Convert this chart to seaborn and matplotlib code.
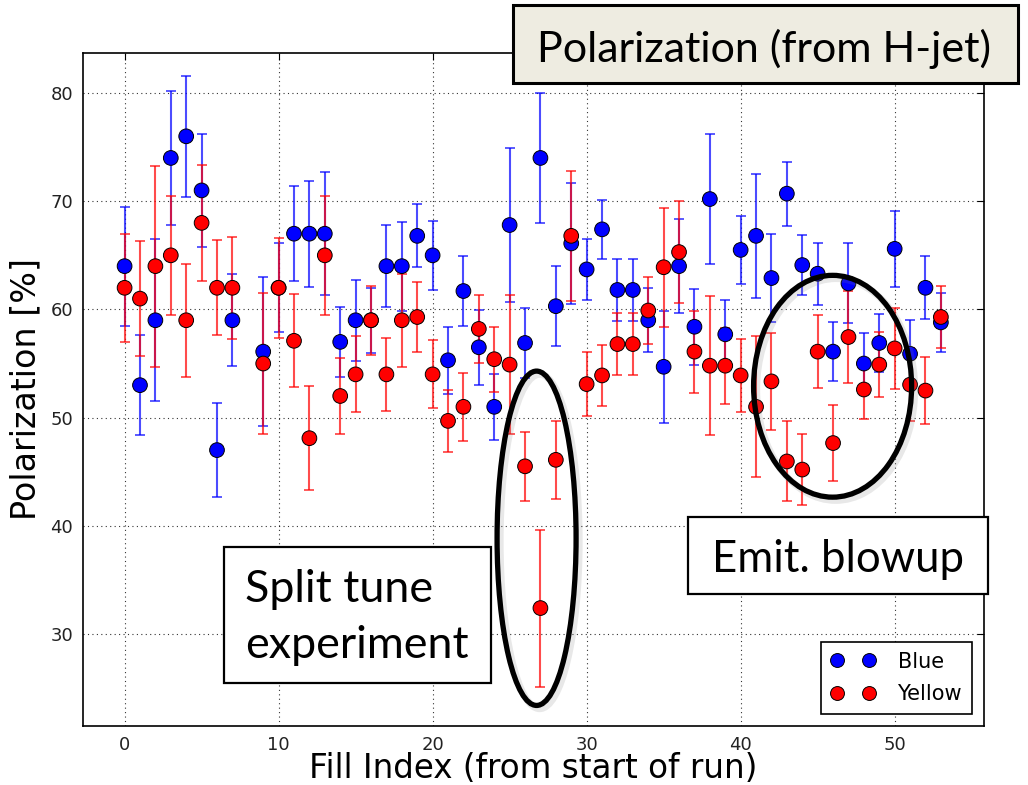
import numpy as np
import pandas as pd
import matplotlib
matplotlib.use("Agg")
import matplotlib.pyplot as plt
from matplotlib.patches import Ellipse, Rectangle
from matplotlib.lines import Line2D
import seaborn as sns

# ---------------- data ----------------
fill_index = [0, 1, 2, 3, 4, 5, 6, 7, 9, 10, 11, 12, 13, 14, 15, 16, 17, 18, 19, 20,
              21, 22, 23, 24, 25, 26, 27, 28, 29, 30, 31, 32, 33, 34, 35, 36, 37, 38,
              39, 40, 41, 42, 43, 44, 45, 46, 47, 48, 49, 50, 51, 52, 53]

blue_pol = [64.0, 53.0, 59.0, 74.0, 76.0, 71.0, 47.0, 59.0, 56.1, 62.0, 67.0, 67.0,
            67.0, 57.0, 59.0, 59.0, 64.0, 64.0, 66.8, 65.0, 55.3, 61.7, 56.5, 51.0,
            67.8, 56.9, 74.0, 60.3, 66.1, 63.7, 67.4, 61.8, 61.8, 59.0, 54.7, 64.0,
            58.4, 70.2, 57.7, 65.5, 66.8, 62.9, 70.7, 64.1, 63.3, 56.1, 62.4, 55.0,
            56.9, 65.6, 55.9, 62.0, 58.8]
blue_err = [5.5, 4.6, 7.5, 6.2, 5.6, 5.25, 4.35, 4.25, 6.9, 4.1, 4.4, 4.9, 5.7, 3.2,
            3.75, 3.0, 3.8, 4.1, 2.9, 3.2, 3.1, 3.2, 3.45, 3.05, 7.1, 3.2, 6.0, 3.7,
            5.6, 2.85, 2.75, 2.9, 2.85, 2.95, 5.2, 4.35, 3.5, 6.0, 3.2, 3.15, 5.7,
            4.05, 2.95, 2.75, 2.85, 2.7, 3.7, 2.8, 2.7, 3.5, 3.1, 2.9, 2.75]

yellow_pol = [62.0, 61.0, 64.0, 65.0, 59.0, 68.0, 62.0, 62.0, 55.0, 62.0, 57.1, 48.1,
              65.0, 52.0, 54.0, 59.0, 54.0, 59.0, 59.3, 54.0, 49.7, 51.0, 58.2, 55.4,
              54.9, 45.5, 32.4, 46.1, 66.8, 53.1, 53.9, 56.8, 56.8, 59.9, 63.9, 65.3,
              56.1, 54.8, 54.8, 53.9, 51.0, 53.35, 45.95, 45.2, 56.1, 47.65, 57.45,
              52.6, 54.9, 56.4, 53.05, 52.5, 59.3]
yellow_err = [5.0, 5.3, 9.3, 5.5, 5.2, 5.35, 4.4, 4.7, 6.5, 4.6, 4.3, 4.8, 5.5, 3.5,
              3.5, 3.2, 3.4, 4.3, 3.2, 3.15, 2.9, 3.15, 3.15, 3.0, 6.45, 3.2, 7.25,
              3.6, 6.0, 2.95, 2.8, 2.9, 2.9, 3.1, 5.5, 4.75, 3.8, 6.4, 3.5, 3.4, 6.5,
              4.45, 3.7, 3.25, 3.4, 3.5, 4.25, 2.7, 3.0, 3.75, 3.4, 3.1, 2.9]

ring_names = ["Blue", "Yellow"]
ring_colors = {"Blue": "#0000ff", "Yellow": "#ff0000"}

x_ticks = [0, 10, 20, 30, 40, 50]
y_ticks = [30, 40, 50, 60, 70, 80]

df = pd.concat([
    pd.DataFrame({"fill": fill_index, "pol": blue_pol, "err": blue_err, "ring": "Blue"}),
    pd.DataFrame({"fill": fill_index, "pol": yellow_pol, "err": yellow_err, "ring": "Yellow"}),
], ignore_index=True)

# ---------------- figure ----------------
sns.set_style("white")
plt.rcParams["font.family"] = ["DejaVu Sans"]
plt.rcParams["text.color"] = "black"
plt.rcParams["axes.labelcolor"] = "black"

W, H = 1028, 785
fig = plt.figure(figsize=(W / 100, H / 100), dpi=100)
ax = fig.add_axes([83 / W, 1 - 726 / H, (984 - 83) / W, (726 - 53) / H])

# error bars
for ring in ring_names:
    sub = df[df.ring == ring]
    ax.errorbar(sub.fill, sub.pol, yerr=sub.err, fmt="none",
                ecolor=ring_colors[ring], alpha=0.7, elinewidth=1.5,
                capsize=3.6, capthick=1.3, zorder=2)

# markers
sns.scatterplot(data=df, x="fill", y="pol", hue="ring", hue_order=ring_names,
                palette=ring_colors, s=112, edgecolor="black", linewidth=0.7,
                legend=False, ax=ax, zorder=3)

ax.set_xlim(-2.7, 55.8)
ax.set_ylim(21.5, 83.7)
ax.set_xticks(x_ticks)
ax.set_yticks(y_ticks)
ax.grid(True, linestyle=(0, (1, 3)), color="black", linewidth=0.8, alpha=0.8)
ax.tick_params(direction="in", top=True, right=True, length=5, width=0.8,
               labelsize=13, colors="black", labelcolor="#222222", pad=7)
for sp in ax.spines.values():
    sp.set_color("black")
    sp.set_linewidth(1.2)

ax.set_xlabel("Fill Index (from start of run)", fontsize=23.5, labelpad=-1)
ax.set_ylabel("Polarization [%]", fontsize=24, labelpad=6)

handles = [Line2D([], [], linestyle="none", marker="o", markersize=10,
                  markerfacecolor=ring_colors[r], markeredgecolor="black",
                  markeredgewidth=0.7) for r in ring_names]
leg = ax.legend(handles, ring_names, loc="lower right", numpoints=2, fontsize=15,
                frameon=True, fancybox=False, framealpha=1, edgecolor="black",
                borderaxespad=0.6, handletextpad=1.05, handlelength=2.15,
                borderpad=0.45, labelspacing=0.6)
leg.get_frame().set_linewidth(1.2)

# ---------------- annotation ellipses ----------------
for (cx, cy, w, h) in [(26.75, 38.85, 5.13, 30.9), (45.97, 52.9, 10.26, 20.5)]:
    shadow = Ellipse((cx + 0.2, cy - 0.3), w, h, fill=False, edgecolor="gray",
                     linewidth=5, alpha=0.18, zorder=5)
    ax.add_patch(shadow)
    ax.add_patch(Ellipse((cx, cy), w, h, fill=False, edgecolor="black",
                         linewidth=3.8, zorder=6))

# ---------------- text boxes (figure pixel coords) ----------------
def fx(px):
    return px / W


def fy(py):
    return 1 - py / H


def box(x0, y0, x1, y1, face, lw):
    fig.patches.append(Rectangle((fx(x0), fy(y1)), fx(x1) - fx(x0), fy(y0) - fy(y1),
                                 transform=fig.transFigure, facecolor=face,
                                 edgecolor="black", linewidth=lw, zorder=10))

ann_font = ["Lato", "DejaVu Sans"]

box(513, 5, 1018, 83, "#eeece1", 2.2)
fig.text(fx(764), fy(62), "Polarization (from H-jet)", ha="center", va="baseline",
         fontsize=31, family=ann_font, color="black", zorder=11)

box(224, 547, 491, 683, "white", 1.6)
fig.text(fx(245), fy(602), "Split tune", ha="left", va="baseline",
         fontsize=32.3, family=ann_font, color="black", zorder=11)
fig.text(fx(245), fy(658), "experiment", ha="left", va="baseline",
         fontsize=32.3, family=ann_font, color="black", zorder=11)

box(688, 517, 988, 594, "white", 1.6)
fig.text(fx(712), fy(572), "Emit. blowup", ha="left", va="baseline",
         fontsize=31.5, family=ann_font, color="black", zorder=11)

fig.savefig("out.png", dpi=100)
